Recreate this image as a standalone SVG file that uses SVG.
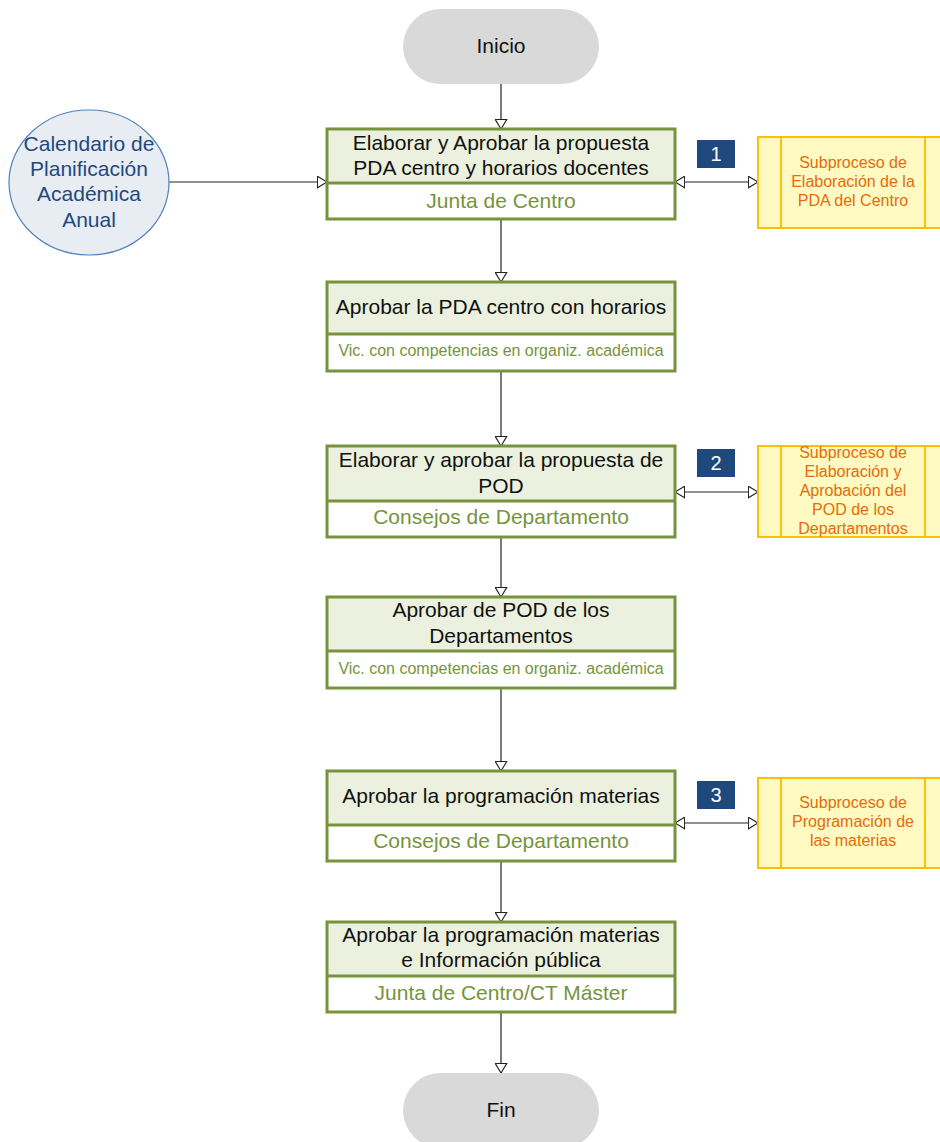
<svg xmlns="http://www.w3.org/2000/svg" width="940" height="1142" viewBox="0 0 940 1142">
  <style>
    text { font-family: "Liberation Sans", Arial, sans-serif; }
    .pill { fill: #D9D9D9; stroke: none; }
    .pill-t { font-size: 21px; fill: #111; text-anchor: middle; }
    .box-top { fill: #EBF1DE; stroke: none; }
    .box-bot { fill: #FFFFFF; stroke: none; }
    .box-frame { fill: none; stroke: #77933C; stroke-width: 3; }
    .box-div { stroke: #77933C; stroke-width: 3; }
    .title { font-size: 21px; fill: #111; text-anchor: middle; }
    .role { font-size: 21px; fill: #77933C; text-anchor: middle; }
    .role-s { font-size: 16px; fill: #77933C; text-anchor: middle; }
    .sub { fill: #FFFAC2; stroke: #FFC000; stroke-width: 2; }
    .sub-l { stroke: #FFC000; stroke-width: 2; }
    .sub-t { font-size: 16px; fill: #E46C0A; text-anchor: middle; }
    .badge { fill: #1F497D; }
    .badge-t { font-size: 20px; fill: #FFFFFF; text-anchor: middle; }
    .ell { fill: #E8EDF3; stroke: #4F81BD; stroke-width: 1.2; }
    .ell-t { font-size: 21px; fill: #1F497D; text-anchor: middle; }
    .conn { fill: none; stroke: #222; stroke-width: 1.2; }
  </style>
  <defs>
    <marker id="arrow" viewBox="0 0 11 13" refX="10.3" refY="6.5" markerWidth="11" markerHeight="13" markerUnits="userSpaceOnUse" orient="auto-start-reverse">
      <path d="M0.7,0.7 L10.3,6.5 L0.7,12.3 Z" fill="#FFFFFF" stroke="#222" stroke-width="1.1"/>
    </marker>
  </defs>

  <!-- connectors -->
  <g id="connectors">
    <line class="conn" x1="501" y1="84" x2="501" y2="129" marker-end="url(#arrow)"/>
    <line class="conn" x1="169" y1="182" x2="327" y2="182" marker-end="url(#arrow)"/>
    <line class="conn" x1="675" y1="182" x2="758" y2="182" marker-start="url(#arrow)" marker-end="url(#arrow)"/>
    <line class="conn" x1="501" y1="219" x2="501" y2="282" marker-end="url(#arrow)"/>
    <line class="conn" x1="501" y1="371" x2="501" y2="446" marker-end="url(#arrow)"/>
    <line class="conn" x1="675" y1="492" x2="758" y2="492" marker-start="url(#arrow)" marker-end="url(#arrow)"/>
    <line class="conn" x1="501" y1="537" x2="501" y2="597" marker-end="url(#arrow)"/>
    <line class="conn" x1="501" y1="688" x2="501" y2="771" marker-end="url(#arrow)"/>
    <line class="conn" x1="675" y1="823" x2="758" y2="823" marker-start="url(#arrow)" marker-end="url(#arrow)"/>
    <line class="conn" x1="501" y1="861" x2="501" y2="922" marker-end="url(#arrow)"/>
    <line class="conn" x1="501" y1="1012" x2="501" y2="1073" marker-end="url(#arrow)"/>
  </g>

  <!-- start / end terminators -->
  <g id="inicio">
    <rect class="pill" x="403" y="9" width="196" height="75" rx="37.5"/>
    <text class="pill-t" x="501" y="53">Inicio</text>
  </g>
  <g id="fin">
    <rect class="pill" x="403" y="1073" width="196" height="75" rx="37.5"/>
    <text class="pill-t" x="501" y="1117">Fin</text>
  </g>

  <!-- input data -->
  <g id="calendario">
    <ellipse class="ell" cx="89" cy="182.5" rx="80" ry="72.5"/>
    <text class="ell-t" x="89" y="151">Calendario de</text>
    <text class="ell-t" x="89" y="176">Planificación</text>
    <text class="ell-t" x="89" y="201">Académica</text>
    <text class="ell-t" x="89" y="227">Anual</text>
  </g>

  <!-- activity 1 -->
  <g id="act1">
    <rect class="box-top" x="327" y="129" width="348" height="54"/>
    <rect class="box-bot" x="327" y="183" width="348" height="36"/>
    <rect class="box-frame" x="327" y="129" width="348" height="90"/>
    <line class="box-div" x1="327" y1="183" x2="675" y2="183"/>
    <text class="title" x="501" y="150">Elaborar y Aprobar la propuesta</text>
    <text class="title" x="501" y="175">PDA centro y horarios docentes</text>
    <text class="role" x="501" y="208">Junta de Centro</text>
  </g>
  <g id="badge1">
    <rect class="badge" x="697" y="140" width="38" height="28"/>
    <text class="badge-t" x="716" y="161">1</text>
  </g>
  <g id="sub1">
    <rect class="sub" x="758" y="137" width="190" height="91"/>
    <line class="sub-l" x1="781" y1="137" x2="781" y2="228"/>
    <line class="sub-l" x1="925" y1="137" x2="925" y2="228"/>
    <text class="sub-t" x="853" y="168">Subproceso de</text>
    <text class="sub-t" x="853" y="187">Elaboración de la</text>
    <text class="sub-t" x="853" y="206">PDA del Centro</text>
  </g>

  <!-- activity 2 -->
  <g id="act2">
    <rect class="box-top" x="327" y="282" width="348" height="52"/>
    <rect class="box-bot" x="327" y="334" width="348" height="37"/>
    <rect class="box-frame" x="327" y="282" width="348" height="89"/>
    <line class="box-div" x1="327" y1="334" x2="675" y2="334"/>
    <text class="title" x="501" y="314">Aprobar la PDA centro con horarios</text>
    <text class="role-s" x="501" y="356">Vic. con competencias en organiz. académica</text>
  </g>

  <!-- activity 3 -->
  <g id="act3">
    <rect class="box-top" x="327" y="446" width="348" height="55"/>
    <rect class="box-bot" x="327" y="501" width="348" height="36"/>
    <rect class="box-frame" x="327" y="446" width="348" height="91"/>
    <line class="box-div" x1="327" y1="501" x2="675" y2="501"/>
    <text class="title" x="501" y="467">Elaborar y aprobar la propuesta de</text>
    <text class="title" x="501" y="493">POD</text>
    <text class="role" x="501" y="524">Consejos de Departamento</text>
  </g>
  <g id="badge2">
    <rect class="badge" x="697" y="449" width="38" height="28"/>
    <text class="badge-t" x="716" y="470">2</text>
  </g>
  <g id="sub2">
    <rect class="sub" x="758" y="446" width="190" height="91"/>
    <line class="sub-l" x1="781" y1="446" x2="781" y2="537"/>
    <line class="sub-l" x1="925" y1="446" x2="925" y2="537"/>
    <text class="sub-t" x="853" y="458">Subproceso de</text>
    <text class="sub-t" x="853" y="477">Elaboración y</text>
    <text class="sub-t" x="853" y="496">Aprobación del</text>
    <text class="sub-t" x="853" y="515">POD de los</text>
    <text class="sub-t" x="853" y="534">Departamentos</text>
  </g>

  <!-- activity 4 -->
  <g id="act4">
    <rect class="box-top" x="327" y="597" width="348" height="54"/>
    <rect class="box-bot" x="327" y="651" width="348" height="37"/>
    <rect class="box-frame" x="327" y="597" width="348" height="91"/>
    <line class="box-div" x1="327" y1="651" x2="675" y2="651"/>
    <text class="title" x="501" y="617">Aprobar de POD de los</text>
    <text class="title" x="501" y="643">Departamentos</text>
    <text class="role-s" x="501" y="674">Vic. con competencias en organiz. académica</text>
  </g>

  <!-- activity 5 -->
  <g id="act5">
    <rect class="box-top" x="327" y="771" width="348" height="54"/>
    <rect class="box-bot" x="327" y="825" width="348" height="36"/>
    <rect class="box-frame" x="327" y="771" width="348" height="90"/>
    <line class="box-div" x1="327" y1="825" x2="675" y2="825"/>
    <text class="title" x="501" y="803">Aprobar la programación materias</text>
    <text class="role" x="501" y="848">Consejos de Departamento</text>
  </g>
  <g id="badge3">
    <rect class="badge" x="697" y="781" width="38" height="28"/>
    <text class="badge-t" x="716" y="802">3</text>
  </g>
  <g id="sub3">
    <rect class="sub" x="758" y="778" width="190" height="90"/>
    <line class="sub-l" x1="781" y1="778" x2="781" y2="868"/>
    <line class="sub-l" x1="925" y1="778" x2="925" y2="868"/>
    <text class="sub-t" x="853" y="808">Subproceso de</text>
    <text class="sub-t" x="853" y="827">Programación de</text>
    <text class="sub-t" x="853" y="846">las materias</text>
  </g>

  <!-- activity 6 -->
  <g id="act6">
    <rect class="box-top" x="327" y="922" width="348" height="54"/>
    <rect class="box-bot" x="327" y="976" width="348" height="36"/>
    <rect class="box-frame" x="327" y="922" width="348" height="90"/>
    <line class="box-div" x1="327" y1="976" x2="675" y2="976"/>
    <text class="title" x="501" y="942">Aprobar la programación materias</text>
    <text class="title" x="501" y="967">e Información pública</text>
    <text class="role" x="501" y="1000">Junta de Centro/CT Máster</text>
  </g>
</svg>
